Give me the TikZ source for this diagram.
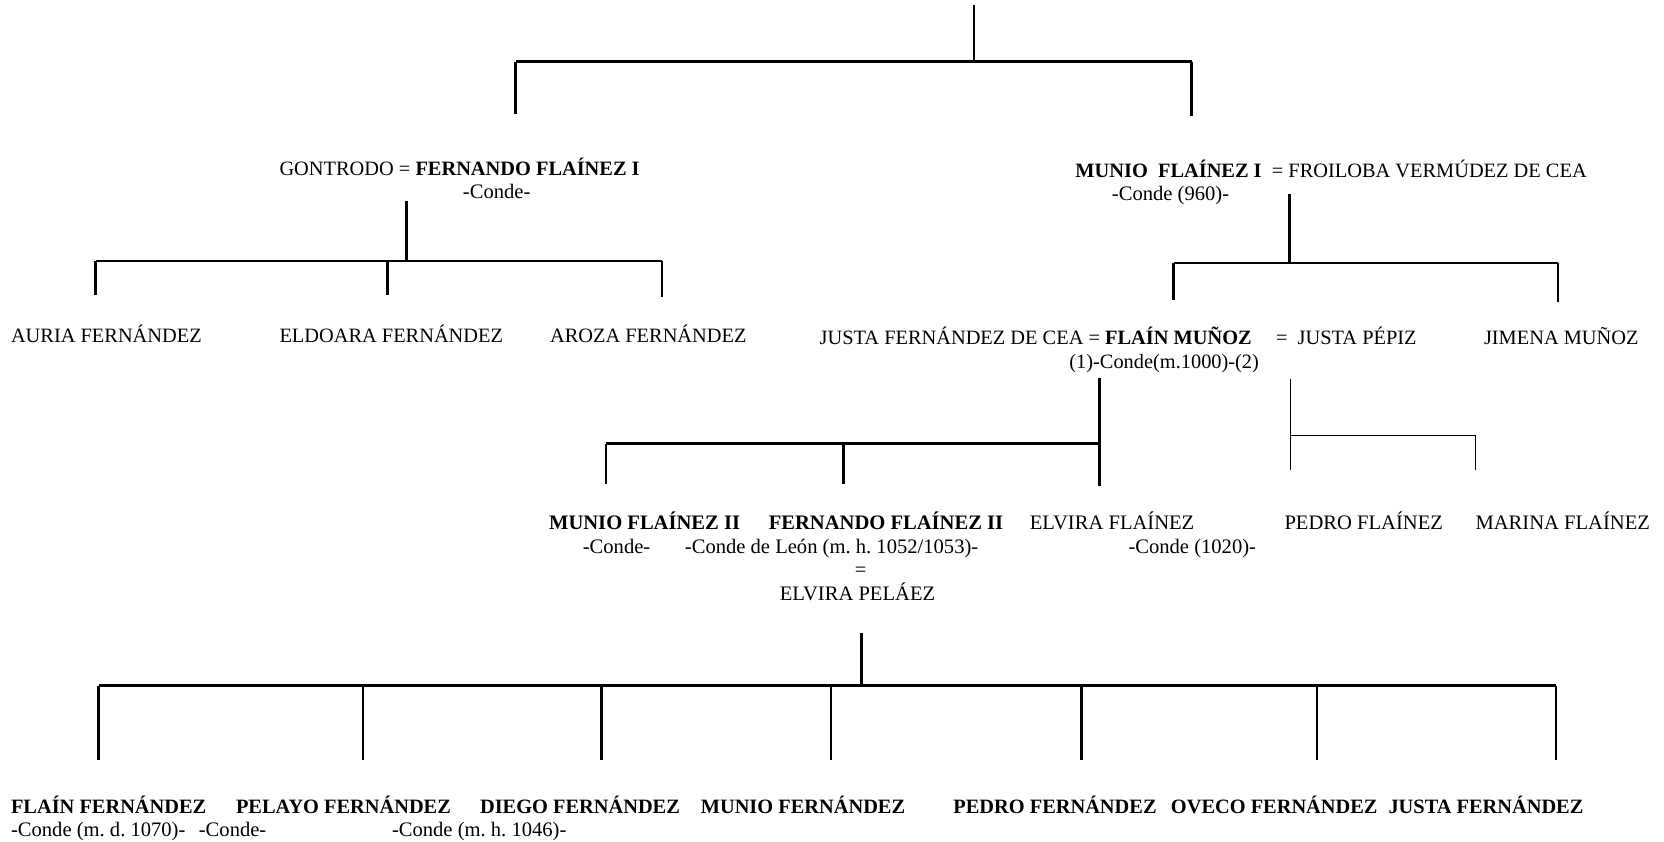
\documentclass[tikz,border=0pt]{standalone}
\usepackage{fontspec}
\setmainfont{Liberation Serif}
\usepackage{tikz}
\usetikzlibrary{positioning}
\frenchspacing

\begin{document}
\begin{tikzpicture}[
      x=0.5pt, y=-0.5pt,
      person/.style={font=\fontsize{9.6}{11}\selectfont, inner sep=0pt,
        anchor=base west},
      cperson/.style={person, anchor=base},
      note/.style={font=\fontsize{9.7}{11}\selectfont, inner sep=0pt,
        anchor=base west},
      cnote/.style={note, anchor=base},
      branch/.style={line width=1.2pt},
      twig/.style={line width=0.5pt}
    ]
    \useasboundingbox (0,0) rectangle (1568,793);

    % generation 1
    \node[person] (fernando1) at (263,165)
      {GONTRODO = \textbf{FERNANDO FLAÍNEZ I}};
    \node[cnote] (fernando1c) at (468,187) {-Conde-};
    \node[person] (munio1) at (1013,167)
      {\textbf{MUNIO\ \ FLAÍNEZ I}\ \ = FROILOBA VERMÚDEZ DE CEA};
    \node[cnote] (munio1c) at (1103,189) {-Conde (960)-};

    % generation 2
    \node[person] (auria) at (10,323) {AURIA FERNÁNDEZ};
    \node[person] (eldoara) at (263,323) {ELDOARA FERNÁNDEZ};
    \node[person] (aroza) at (518,323) {AROZA FERNÁNDEZ};
    \node[person] (flain) at (772,325)
      {JUSTA FERNÁNDEZ DE CEA = \textbf{FLAÍN MUÑOZ}};
    \node[person] (justap) at (1202,325) {=\ \ JUSTA PÉPIZ};
    \node[person] (jimena) at (1398,325) {JIMENA MUÑOZ};
    \node[cperson] (flainc) at (1097,347) {(1)-Conde(m.1000)-(2)};

    % generation 3
    \node[note] (munio2) at (517,499) {\textbf{MUNIO FLAÍNEZ II}};
    \node[note] (fernando2) at (724,499) {\textbf{FERNANDO FLAÍNEZ II}};
    \node[note] (elvira) at (970,499) {ELVIRA FLAÍNEZ};
    \node[note] (pedro) at (1210,499) {PEDRO FLAÍNEZ};
    \node[note] (marina) at (1390,499) {MARINA FLAÍNEZ};
    \node[cnote] (munio2c) at (581,522) {-Conde-};
    \node[note] (fernando2c) at (645,522) {-Conde de León (m. h. 1052/1053)-};
    \node[note] (elvirac) at (1063,522) {-Conde (1020)-};
    \node[cnote] (eq) at (811,543) {=};
    \node[cnote] (pelaez) at (808,566) {ELVIRA PELÁEZ};

    % generation 4
    \node[person] (flainf) at (10,767) {\textbf{FLAÍN FERNÁNDEZ}};
    \node[person] (pelayo) at (222,767) {\textbf{PELAYO FERNÁNDEZ}};
    \node[person] (diego) at (452,767) {\textbf{DIEGO FERNÁNDEZ}};
    \node[person] (muniof) at (660,767) {\textbf{MUNIO FERNÁNDEZ}};
    \node[person] (pedrof) at (898,767) {\textbf{PEDRO FERNÁNDEZ}};
    \node[person] (oveco) at (1103,767) {\textbf{OVECO FERNÁNDEZ}};
    \node[person] (justaf) at (1308,767) {\textbf{JUSTA FERNÁNDEZ}};
    \node[note] (flainfc) at (10,788) {-Conde (m. d. 1070)-};
    \node[note] (pelayoc) at (187,788) {-Conde-};
    \node[note] (diegoc) at (369,788) {-Conde (m. h. 1046)-};

    % tree lines
    \coordinate (root) at (918,5);
    \coordinate (rootbar) at (918,58);
    \coordinate (lfam) at (486,107);
    \coordinate (rfam) at (1123,109);
    \draw[branch] (root) -- (rootbar);
    \draw[branch] (lfam |- rootbar) -- (rfam |- rootbar);
    \draw[branch] (lfam |- rootbar) -- (lfam);
    \draw[branch] (rfam |- rootbar) -- (rfam);

    \coordinate (fstem) at (383,189);
    \coordinate (fbar) at (383,246);
    \coordinate (auriaup) at (90,278);
    \coordinate (eldoaraup) at (365,278);
    \coordinate (arozaup) at (624,280);
    \draw[branch] (fstem) -- (fbar);
    \draw[branch] (auriaup |- fbar) -- (arozaup |- fbar);
    \foreach \c in {auriaup,eldoaraup,arozaup}
      \draw[branch] (\c |- fbar) -- (\c);

    \coordinate (mstem) at (1215,183);
    \coordinate (mbar) at (1215,248);
    \coordinate (flainup) at (1106,283);
    \coordinate (jimenaup) at (1468,285);
    \draw[branch] (mstem) -- (mbar);
    \draw[branch] (flainup |- mbar) -- (jimenaup |- mbar);
    \foreach \c in {flainup,jimenaup}
      \draw[branch] (\c |- mbar) -- (\c);

    \coordinate (lstem) at (1036,356);
    \coordinate (lbar) at (1036,418);
    \coordinate (elviraup) at (1036,458);
    \coordinate (munio2up) at (571,456);
    \coordinate (fernando2up) at (795,456);
    \draw[branch] (lstem) -- (elviraup);
    \draw[branch] (munio2up |- lbar) -- (lbar);
    \foreach \c in {munio2up,fernando2up}
      \draw[branch] (\c |- lbar) -- (\c);

    \coordinate (pstem) at (1216,357);
    \coordinate (pbar) at (1216,410);
    \coordinate (pedroup) at (1216,443);
    \coordinate (marinaup) at (1390,443);
    \draw[twig] (pstem) -- (pedroup);
    \draw[twig] (pbar) -- (marinaup |- pbar) -- (marinaup);

    \coordinate (estem) at (812,596);
    \coordinate (ebar) at (812,646);
    \draw[branch] (estem) -- (ebar);
    \draw[branch] (93,646) -- (1466,646);
    \foreach \x/\n in {93/flainf,342/pelayo,567/diego,783/muniof,
        1019/pedrof,1241/oveco,1466/justaf}
      \draw[branch] (\x,646) coordinate (\n bar) -- (\x,716) coordinate (\n up);
\end{tikzpicture}
\end{document}
